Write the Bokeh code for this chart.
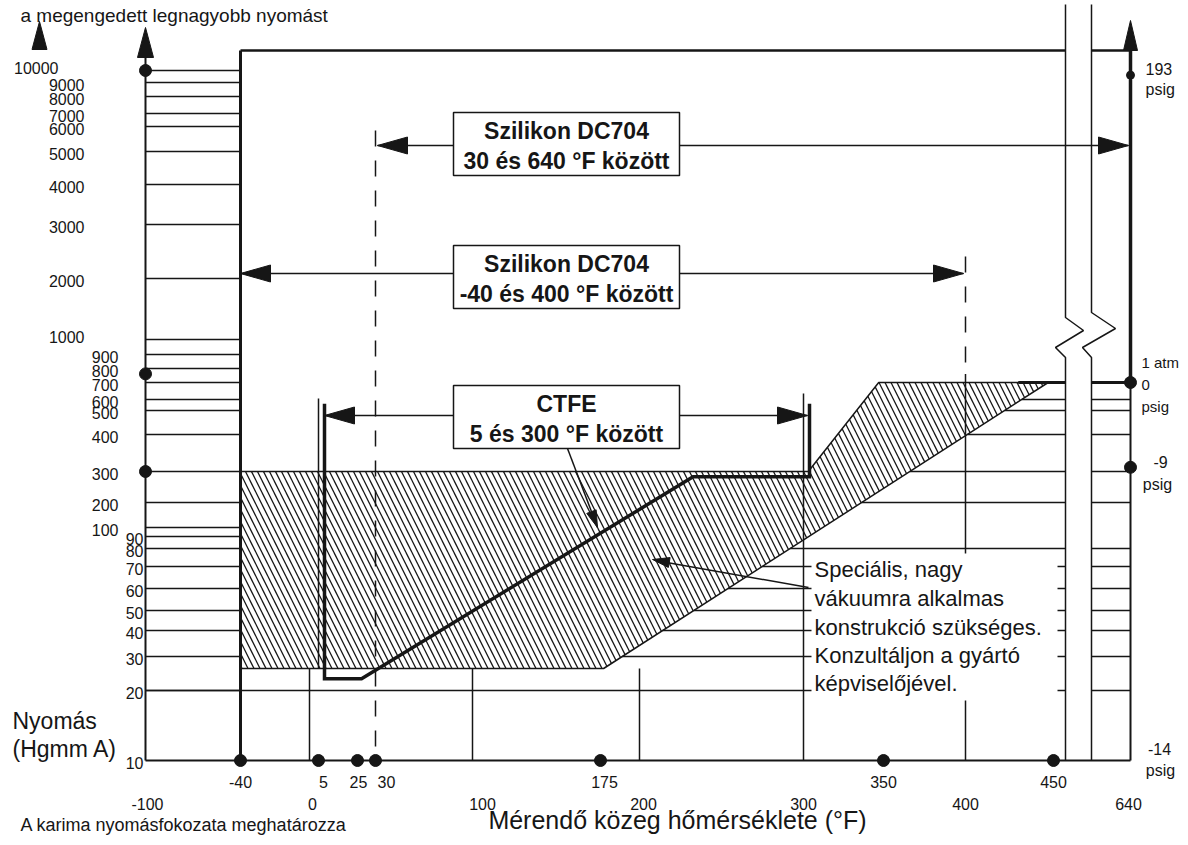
import numpy as np
from bokeh.plotting import figure
from bokeh.models import Range1d
from bokeh.core.properties import value
from bokeh.embed import file_html
from bokeh.resources import INLINE

# ---------------- data ----------------
pressure_ticks = [10000, 9000, 8000, 7000, 6000, 5000, 4000, 3000, 2000, 1000,
                  900, 800, 700, 600, 500, 400, 300, 200, 100,
                  90, 80, 70, 60, 50, 40, 30, 20, 10]
temp_ticks_upper = [-40, 5, 25, 30, 175, 350, 450]
temp_ticks_lower = [-100, 0, 100, 200, 300, 400, 640]
temp_dots = [-40, 5, 25, 30, 175, 350, 450]
pressure_dots = [10000, 760, 300]

silicone_hi_range = [30, 640]      # Szilikon DC704, 30..640 °F
silicone_lo_range = [-40, 400]     # Szilikon DC704, -40..400 °F
ctfe_range = [5, 300]              # CTFE, 5..300 °F

ctfe_limit_T = [5, 5, 24, 229, 300, 300]
ctfe_limit_P = [560, 23, 23, 280, 280, 560]

special_T = [-40, 303, 347, 447, 177, -40]
special_P = [300, 300, 700, 700, 26, 26]

right_grid_P = [700, 600, 500, 400, 300, 200, 80, 70, 60, 50, 40, 30]

psig_dot_P = [9600, 700, 310]

# ---------------- scale anchors (tick positions on the drawing) ----------------
T_POS = [-100, -40, 0, 5, 25, 30, 100, 175, 200, 300, 350, 400, 450, 640]
X_POS = [145, 240, 309, 318, 357, 375, 472, 600, 639, 803, 883, 965, 1053, 1130]
P_POS = [10, 20, 30, 40, 50, 60, 70, 80, 90, 100, 200, 300, 400, 500, 600, 700,
         800, 900, 1000, 2000, 3000, 4000, 5000, 6000, 7000, 8000, 9000, 10000]
Y_POS = [760, 690, 656, 630, 610, 588, 566, 548, 536, 527, 502, 471, 434, 410, 399,
         382, 368, 354, 339, 278, 224, 184, 151, 126, 113, 96, 82, 70]


def X(t):
    return np.interp(np.asarray(t, dtype=float), T_POS, X_POS)


def Y(pv):
    return np.interp(np.log10(np.asarray(pv, dtype=float)), np.log10(P_POS), Y_POS)


INK = "#161616"
FONT = value("Liberation Sans")

W, H = 1180, 837
p = figure(width=W, height=H, x_range=Range1d(0, W), y_range=Range1d(H, 0),
           output_backend="svg", toolbar_location=None, min_border=0,
           x_axis_type=None, y_axis_type=None)
p.outline_line_color = None
p.background_fill_color = "white"
p.border_fill_color = "white"


def seg(x0, y0, x1, y1, w=1.5, dash="solid", color=INK):
    p.line([x0, x1], [y0, y1], line_color=color, line_width=w, line_dash=dash)


def head(tip, frm, length, half):
    tx, ty = tip
    fx, fy = frm
    d = np.array([tx - fx, ty - fy], dtype=float)
    d /= np.hypot(*d)
    n = np.array([-d[1], d[0]])
    b = np.array([tx, ty]) - d * length
    xs = [tx, b[0] + n[0] * half, b[0] - n[0] * half]
    ys = [ty, b[1] + n[1] * half, b[1] - n[1] * half]
    p.patch(xs, ys, fill_color=INK, line_color=INK, line_width=1)


Y10 = float(Y(10))
XL = float(X(-100))
XR = float(X(640))
XM40 = float(X(-40))
Y_TOP = 50
BRK_L, BRK_R = 1065, 1091

# ---------------- hatched "special construction" region ----------------
p.patch(X(special_T), Y(special_P), fill_color="white", hatch_pattern="\\",
        hatch_color=INK, hatch_scale=12, hatch_weight=1.3,
        line_color=INK, line_width=1.5)

# ---------------- grid lines ----------------
for P in pressure_ticks[:-1]:
    seg(XL, float(Y(P)), XM40, float(Y(P)))

xa, ya = float(X(special_T[3])), float(Y(special_P[3]))
xb, yb = float(X(special_T[4])), float(Y(special_P[4]))
for P in right_grid_P:
    yy = float(Y(P))
    xs = xb + (yy - yb) * (xa - xb) / (ya - yb)
    seg(xs, yy, XR, yy)
seg(XL, float(Y(20)), XR, float(Y(20)))

# vertical grid lines
for T in [0, 100, 200]:
    seg(float(X(T)), float(Y(26)), float(X(T)), Y10)

A1, A2, A3 = 145, 273, 415           # arrow rows (layout)
seg(float(X(5)), A3 - 17, float(X(5)), float(Y(26)))
seg(float(X(300)), A3 - 22, float(X(300)), Y10)
seg(float(X(30)), A1 - 15, float(X(30)), Y10, w=1.5, dash="16 14")
seg(float(X(400)), A2 - 17, float(X(400)), float(Y(760)), w=1.5, dash="16 14")
seg(float(X(400)), float(Y(760)), float(X(400)), Y10)

# thick 1 atm line on the right
seg(float(X(430)), float(Y(700)), XR, float(Y(700)), w=3)

# ---------------- axis break ----------------
zl_x = [BRK_L, BRK_L, BRK_L + 18, BRK_L - 10, BRK_L, BRK_L]
zl_y = [4, 317, 330, 347, 357, Y10]
zr_x = [BRK_R, BRK_R, BRK_R + 24, BRK_R - 9, BRK_R, BRK_R]
zr_y = [4, 312, 328, 347, 357, Y10]
p.patch(zl_x + zr_x[::-1], zl_y + zr_y[::-1], fill_color="white", line_color=None)
p.line(zl_x, zl_y, line_color=INK, line_width=1.5)
p.line(zr_x, zr_y, line_color=INK, line_width=1.5)

# ---------------- frame / axes ----------------
seg(XL, 45, XL, Y10, w=2)
seg(XL, Y10, XR, Y10, w=2)
seg(XM40, Y_TOP, XM40, Y10, w=3)
seg(XM40, Y_TOP, BRK_L, Y_TOP, w=2.5)
seg(BRK_R, Y_TOP, XR, Y_TOP, w=2.5)
seg(XR, 40, XR, float(Y(700)), w=3.5)
seg(XR, float(Y(700)), XR, Y10, w=2)

head((39, 21), (39, 60), 28, 7.5)
head((XL, 27), (XL, 70), 30, 8)
head((XR, 20), (XR, 60), 30, 7)

# ---------------- CTFE limit line ----------------
p.line(X(ctfe_limit_T) + 6, Y(ctfe_limit_P), line_color=INK, line_width=3.5,
       line_join="miter")

# ---------------- range arrows and boxes ----------------
rows = [
    (A1, float(X(silicone_hi_range[0])) + 2, float(X(silicone_hi_range[1])) - 2,
     ["Szilikon DC704", "30 és 640 °F között"]),
    (A2, float(X(silicone_lo_range[0])), float(X(silicone_lo_range[1])) - 2,
     ["Szilikon DC704", "-40 és 400 °F között"]),
    (A3, float(X(ctfe_range[0])) + 6, float(X(ctfe_range[1])) + 4,
     ["CTFE", "5 és 300 °F között"]),
]
BOX_L, BOX_R = 453, 679
for ay, x0, x1, lines in rows:
    seg(x0, ay, x1, ay, w=1.6)
    head((x0, ay), (x0 + 50, ay), 30, 8.5)
    head((x1, ay), (x1 - 50, ay), 30, 8.5)

box_tops = [112, 245, 385]
for (ay, x0, x1, lines), bt in zip(rows, box_tops):
    p.quad(left=BOX_L, right=BOX_R, top=bt, bottom=bt + 63, fill_color="white",
           line_color=INK, line_width=1.5)
    p.text(x=[(BOX_L + BOX_R) / 2] * 2, y=[bt + 18, bt + 48], text=lines,
           text_font=FONT, text_font_style="bold", text_font_size="23px",
           text_align="center", text_baseline="middle", text_color=INK)

# CTFE pointer
seg(567, 448, 597, 527, w=1.5)
head((597, 527), (567, 448), 17, 5)

# ---------------- note box ----------------
p.quad(left=811, right=1057, top=553, bottom=700, fill_color="white", line_color=None)
note = ["Speciális, nagy", "vákuumra alkalmas", "konstrukció szükséges.",
        "Konzultáljon a gyártó", "képviselőjével."]
p.text(x=[814] * 5, y=[569, 598, 627, 655, 683], text=note, text_font=FONT,
       text_font_size="22px", text_align="left", text_baseline="middle",
       text_color=INK)
seg(808, 587, 655, 560, w=1.5)
head((652, 559), (808, 587), 17, 5)

# ---------------- dots ----------------
p.scatter(x=[XL] * len(pressure_dots), y=Y(pressure_dots), size=12, marker="circle",
          fill_color=INK, line_color=INK)
p.scatter(x=X(temp_dots), y=[Y10] * len(temp_dots), size=12, marker="circle",
          fill_color=INK, line_color=INK)
p.scatter(x=[XR, XR], y=Y(psig_dot_P[1:]), size=12, marker="circle",
          fill_color=INK, line_color=INK)
p.scatter(x=[XR], y=Y(psig_dot_P[:1]), size=8, marker="circle",
          fill_color=INK, line_color=INK)

# ---------------- tick labels ----------------
def col_right(P):
    if P >= 10000:
        return 58
    if P >= 1000:
        return 84
    if P >= 100:
        return 118
    return 143


lx = [col_right(P) for P in pressure_ticks]
ly = [float(Y(P)) - 3 if P in (10000, 1000) else float(Y(P)) + 2 for P in pressure_ticks]
p.text(x=lx, y=ly, text=[str(P) for P in pressure_ticks], text_font=FONT,
       text_font_size="16px", text_align="right", text_baseline="middle",
       text_color=INK)

up_off = [0, 5, 1, 11, 4, 0, 0]
p.text(x=X(temp_ticks_upper) + np.array(up_off), y=[781] * len(temp_ticks_upper),
       text=[str(t) for t in temp_ticks_upper], text_font=FONT, text_font_size="16px",
       text_align="center", text_baseline="middle", text_color=INK)
lo_off = [2, 3, 10, 4, 0, 0, -2]
p.text(x=X(temp_ticks_lower) + np.array(lo_off), y=[803] * len(temp_ticks_lower),
       text=[str(t) for t in temp_ticks_lower], text_font=FONT, text_font_size="16px",
       text_align="center", text_baseline="middle", text_color=INK)

# right (psig) labels
p.text(x=[1145, 1145], y=[68, 89], text=["193", "psig"], text_font=FONT,
       text_font_size="16px", text_align="left", text_baseline="middle", text_color=INK)
p.text(x=[1141, 1141, 1141], y=[362, 384, 406], text=["1 atm", "0", "psig"],
       text_font=FONT, text_font_size="15px", text_align="left",
       text_baseline="middle", text_color=INK)
p.text(x=[1160, 1157], y=[461, 484], text=["-9", "psig"], text_font=FONT,
       text_font_size="16px", text_align="center", text_baseline="middle",
       text_color=INK)
p.text(x=[1159, 1160], y=[748, 770], text=["-14", "psig"], text_font=FONT,
       text_font_size="16px", text_align="center", text_baseline="middle",
       text_color=INK)

# titles
p.text(x=[12, 12], y=[720, 748], text=["Nyomás", "(Hgmm A)"], text_font=FONT,
       text_font_size="23px", text_align="left", text_baseline="middle",
       text_color=INK)
p.text(x=[677], y=[833], text=["Mérendő közeg hőmérséklete (°F)"], text_font=FONT,
       text_font_size="25px", text_align="center", text_baseline="bottom",
       text_color=INK)
p.text(x=[20], y=[834], text=["A karima nyomásfokozata meghatározza"], text_font=FONT,
       text_font_size="18px", text_align="left", text_baseline="bottom",
       text_color=INK)
p.text(x=[20], y=[15], text=["a megengedett legnagyobb nyomást"], text_font=FONT,
       text_font_size="19px", text_align="left", text_baseline="alphabetic",
       text_color=INK)

open("out.html", "w").write(file_html(p, INLINE))
